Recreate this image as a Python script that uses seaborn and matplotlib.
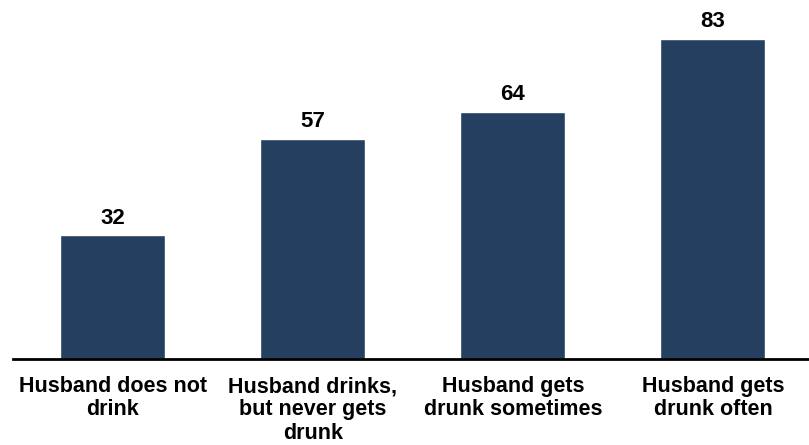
import matplotlib
matplotlib.use("Agg")
import matplotlib.pyplot as plt
import seaborn as sns
import pandas as pd

categories = ["Husband does not\ndrink", "Husband drinks,\nbut never gets\ndrunk",
              "Husband gets\ndrunk sometimes", "Husband gets\ndrunk often"]
values = [32, 57, 64, 83]

df = pd.DataFrame({"cat": categories, "val": values})

sns.set_theme(style="white")
plt.rcParams['font.family'] = ['Liberation Sans', 'DejaVu Sans']

fig = plt.figure(figsize=(8.09, 4.45), dpi=100)
ax = fig.add_axes([12.5/809, 1 - 359/445, (809-12.5)/809, 359/445])
sns.barplot(data=df, x="cat", y="val", color="#243F60", width=0.525, ax=ax, saturation=1)
ax.set_xlim(-0.5, 3.48)
ax.set_ylim(0, 93)
for i, v in enumerate(values):
    ax.annotate(str(v), (i, v), xytext=(0, 5), textcoords="offset points",
                ha="center", va="bottom", fontsize=16, fontweight="bold", color="black")
for s in ["top", "right", "left"]:
    ax.spines[s].set_visible(False)
ax.spines["bottom"].set_color("black")
ax.spines["bottom"].set_linewidth(2)
ax.set_yticks([])
ax.set_xlabel("")
ax.set_ylabel("")
ax.tick_params(axis="x", length=0, pad=12.5, colors="black")
for lab in ax.get_xticklabels():
    lab.set_fontsize(15.5)
    lab.set_fontweight("bold")
    lab.set_color("black")
    lab.set_linespacing(1.13)
    lab.set_verticalalignment("top")
fig.savefig("out.png", dpi=100)
